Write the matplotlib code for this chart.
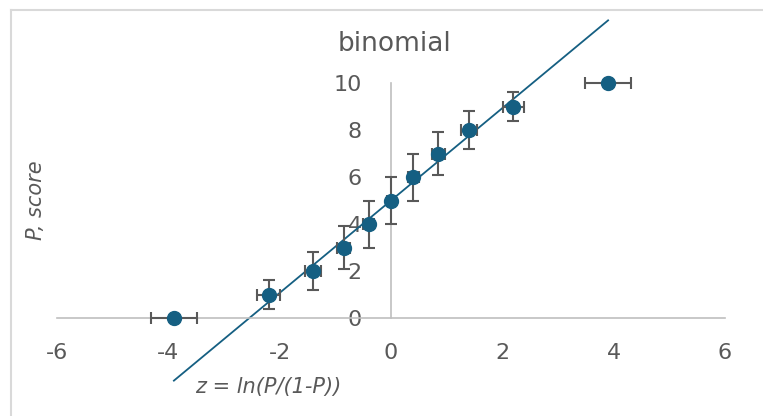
import numpy as np
import matplotlib.pyplot as plt
from matplotlib.lines import Line2D

# ----- data -----
z = [-3.9, -2.2, -1.4, -0.85, -0.4, 0.0, 0.4, 0.85, 1.4, 2.2, 3.9]
score = [0, 1, 2, 3, 4, 5, 6, 7, 8, 9, 10]
z_err = [0.41, 0.2, 0.14, 0.12, 0.1, 0.08, 0.1, 0.12, 0.15, 0.19, 0.41]
score_err = [0, 0.6, 0.8, 0.9, 1.0, 1.0, 1.0, 0.9, 0.8, 0.6, 0]
xticks = [-6, -4, -2, 0, 2, 4, 6]
yticks = [0, 2, 4, 6, 8, 10]

BLUE = "#155f82"
GRAY_TXT = "#595959"
GRAY_LINE = "#bfbfbf"

fig = plt.figure(figsize=(7.63, 4.16), dpi=100)
ax = fig.add_axes([57 / 763, 1 - 318 / 416, (725 - 57) / 763, (318 - 83) / 416])

eb = ax.errorbar(z, score, xerr=z_err, yerr=score_err, fmt="o", color=BLUE,
                 markersize=10, ecolor=GRAY_TXT, elinewidth=1.5, capsize=4,
                 capthick=1.5, zorder=3)
for art in eb.get_children():
    art.set_clip_on(False)

# linear trendline over the inner points
zi = np.array(z[1:-1])
si = np.array(score[1:-1])
k, b = np.polyfit(zi, si, 1)
xx = np.array([min(z), max(z)])
ax.plot(xx, k * xx + b, color=BLUE, lw=1.3, clip_on=False, zorder=2)

ax.set_xlim(-6, 6)
ax.set_ylim(0, 10)
ax.set_xticks(xticks)
ax.set_yticks(yticks)
ax.set_xticklabels([str(t) for t in xticks])
ax.set_yticklabels([str(t) for t in yticks])

for s in ["top", "right"]:
    ax.spines[s].set_visible(False)
ax.spines["left"].set_position(("data", 0))
ax.spines["bottom"].set_position(("data", 0))
for s in ["left", "bottom"]:
    ax.spines[s].set_color(GRAY_LINE)
    ax.spines[s].set_linewidth(1.2)

ax.tick_params(axis="x", length=0, pad=18, labelsize=16, labelcolor=GRAY_TXT)
ax.tick_params(axis="y", length=0, pad=21, labelsize=16, labelcolor=GRAY_TXT)
ax.patch.set_visible(False)

fig.text(394 / 763, 1 - 44 / 416, "binomial", ha="center", va="center",
         fontsize=19, color=GRAY_TXT)
fig.text(36 / 763, 1 - 200 / 416, "P, score", rotation=90, ha="center",
         va="center", fontsize=15, style="italic", color=GRAY_TXT)
fig.text(268 / 763, 1 - 387 / 416, "z = ln(P/(1-P))", ha="center",
         va="center", fontsize=15, style="italic", color=GRAY_TXT)

# chart area border (partly cropped)
fig.add_artist(Line2D([11 / 763, 11 / 763], [0, 1 - 10 / 416],
                      transform=fig.transFigure, color="#d9d9d9", lw=1.5))
fig.add_artist(Line2D([11 / 763, 1], [1 - 10 / 416, 1 - 10 / 416],
                      transform=fig.transFigure, color="#d9d9d9", lw=1.5))

fig.savefig("out.png", dpi=100)
